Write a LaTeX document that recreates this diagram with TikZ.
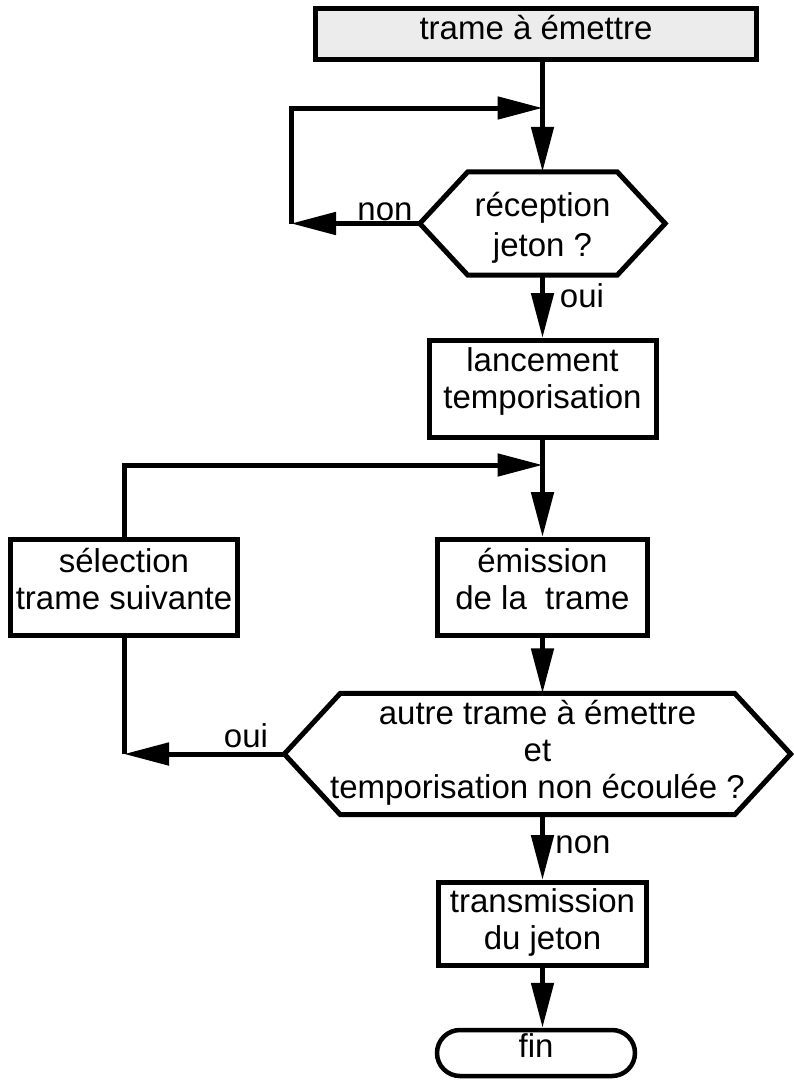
\documentclass[tikz,border=0pt]{standalone}
\usepackage{fontspec}
\setmainfont{Liberation Sans}
\usetikzlibrary{arrows.meta}
\definecolor{headfill}{HTML}{ECECEC}
% invisible struts used to set the text a little higher or lower in a shape
\newcommand{\deep}[1]{\rule[-#1]{0pt}{#1}}
\newcommand{\tall}[1]{\rule{0pt}{#1}}
\begin{document}
\begin{tikzpicture}[x=1pt,y=-1pt,
  every node/.style={font=\fontsize{33}{37}\selectfont, inner sep=0pt, align=center},
  box/.style={draw, line width=5pt, rectangle},
  decision/.style={rectangle},
  hexline/.style={line width=5pt, line join=miter},
  conn/.style={line width=5pt},
  flow/.style={conn, -{Triangle[length=45pt,width=22pt]}},
  answer/.style={anchor=base}
]
\useasboundingbox (0,0) rectangle (793,1081);

% start of the flow
\node[box, fill=headfill, minimum width=441pt, minimum height=51pt,
      text height=31pt, text depth=20pt] (top) at (536,34) {trame à émettre};

% token test
\node[decision, minimum width=245pt, minimum height=103pt] (recep) at (542.5,223.5)
  {\tall{38pt}réception\\[3pt]\strut jeton ?};
\draw[hexline] (recep.west) -- ([xshift=48pt]recep.north west)
  -- ([xshift=-48pt]recep.north east) -- (recep.east)
  -- ([xshift=-48pt]recep.south east) -- ([xshift=48pt]recep.south west) -- cycle;

\node[box, minimum width=227pt, minimum height=97pt] (lanc) at (542.5,389)
  {\strut lancement\\\strut temporisation\deep{23pt}};

\node[box, minimum width=227pt, minimum height=96pt] (sel) at (124,587.5)
  {\strut sélection\\\strut trame suivante\deep{19pt}};
\node[box, minimum width=210pt, minimum height=96pt] (emis) at (542.5,587.5)
  {\strut émission\\\strut de la\ \ trame\deep{19pt}};

% frame / timer test
\node[decision, minimum width=506pt, minimum height=121pt] (autre) at (537.5,754)
  {\strut autre trame à émettre\\\strut et\\\strut temporisation non écoulée ?};
\draw[hexline] (autre.west) -- ([xshift=56pt]autre.north west)
  -- ([xshift=-56pt]autre.north east) -- (autre.east)
  -- ([xshift=-56pt]autre.south east) -- ([xshift=56pt]autre.south west) -- cycle;

\node[box, minimum width=208pt, minimum height=83pt] (trans) at (542.5,924)
  {\strut transmission\\\strut du jeton};
\node[box, line width=4.5pt, rounded corners=23pt, minimum width=198pt,
      minimum height=46pt] (fin) at (536,1053) {\strut fin\deep{16pt}};

% junctions and loop corners
\coordinate (j1) at (542.5,108);
\coordinate (c1) at (291,108);
\coordinate (j2) at (542.5,465);

% connectors
\draw[flow] (top.south -| recep.north) -- (recep.north);
\draw[flow] (recep.west) -- (recep.west -| c1);
\draw[flow] (recep.west -| c1) -- (c1) -- (j1);
\node[answer] (non1) at (385,220) {non};

\draw[flow] (recep.south) -- (lanc.north);
\node[answer] (oui1) at (582,307) {oui};

\draw[conn] (lanc.south) -- (j2);
\draw[flow] (j2) -- (emis.north);
\draw[flow] (sel.north) |- (j2);

\draw[flow] (emis.south) -- (emis.south |- autre.north);
\draw[flow] (autre.west) -- (autre.west -| sel.south);
\draw[conn] (sel.south) -- (autre.west -| sel.south);
\node[answer] (oui2) at (246,747) {oui};

\draw[flow] (trans.north |- autre.south) -- (trans.north);
\node[answer] (non2) at (583,853) {non};

\draw[flow] (trans.south) -- (trans.south |- fin.north);
\end{tikzpicture}
\end{document}
